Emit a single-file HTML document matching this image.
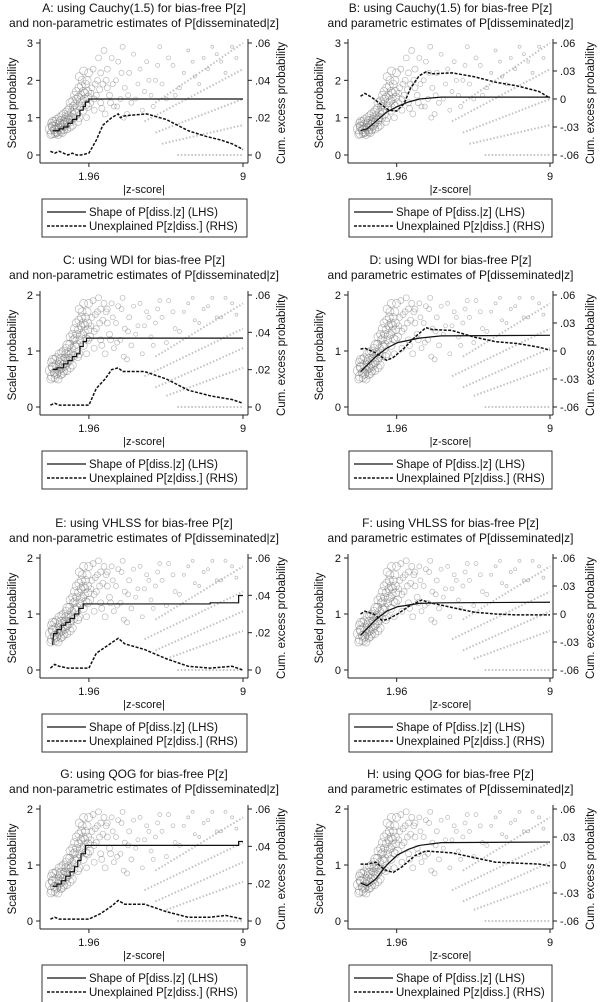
<!DOCTYPE html>
<html><head><meta charset="utf-8">
<style>
html,body{margin:0;padding:0;background:#fff;}
svg{display:block;font-family:"Liberation Sans","DejaVu Sans",sans-serif;}
</style></head>
<body>
<svg id="fig" width="601" height="1002" viewBox="0 0 601 1002" xmlns="http://www.w3.org/2000/svg"></svg>
<script>
// ---- data ----
const panelIds = ['A','B','C','D','E','F','G','H'];
const titles1 = ['A: using Cauchy(1.5) for bias-free P[z]','B: using Cauchy(1.5) for bias-free P[z]','C: using WDI for bias-free P[z]','D: using WDI for bias-free P[z]','E: using VHLSS for bias-free P[z]','F: using VHLSS for bias-free P[z]','G: using QOG for bias-free P[z]','H: using QOG for bias-free P[z]'];
const titles2 = ['and non-parametric estimates of P[disseminated|z]','and parametric estimates of P[disseminated|z]'];
const xTicks = [1.96, 9];
const xTickLabels = ['1.96','9'];
const leftTicksAB = [0,1,2,3];
const leftTicksCH = [0,1,2];
const rightTicksNP = [0,0.02,0.04,0.06];
const rightTickLabelsNP = ['0','.02','.04','.06'];
const rightTicksP = [-0.06,-0.03,0,0.03,0.06];
const rightTickLabelsP = ['-.06','-.03','0','.03','.06'];

const solidA = [[0.3,0.65],[0.6,0.65],[0.6,0.7],[0.8,0.7],[0.8,0.75],[1.0,0.75],[1.0,0.85],[1.2,0.85],[1.2,0.95],[1.4,0.95],[1.4,1.05],[1.55,1.05],[1.55,1.2],[1.7,1.2],[1.7,1.3],[1.8,1.3],[1.8,1.42],[1.96,1.42],[1.96,1.5],[9,1.5]];
const dashA = [[0.2,0.002],[0.4,0.001],[0.6,0.002],[0.8,0.001],[1.0,0.0],[1.2,0.001],[1.4,0.0],[1.6,0.0],[1.96,0.001],[2.3,0.008],[2.6,0.016],[3.0,0.02],[3.3,0.022],[3.4,0.02],[3.6,0.021],[4.6,0.022],[5.5,0.019],[6.5,0.013],[7.3,0.01],[8.0,0.008],[8.5,0.006],[9,0.003]];
const solidB = [[0.3,0.65],[0.6,0.7],[1.0,0.9],[1.5,1.15],[2.0,1.3],[2.5,1.42],[3.0,1.5],[4.0,1.55],[9,1.55]];
const dashB = [[0.3,0.003],[0.5,0.006],[0.8,0.002],[1.2,-0.005],[1.6,-0.012],[1.96,-0.013],[2.3,-0.005],[2.6,0.012],[3.0,0.025],[3.3,0.029],[3.6,0.027],[4.5,0.028],[5.5,0.024],[6.5,0.018],[7.5,0.014],[8.5,0.008],[9,0.001]];
const solidC = [[0.3,0.67],[0.5,0.67],[0.5,0.7],[0.8,0.7],[0.8,0.77],[1.0,0.77],[1.0,0.83],[1.2,0.83],[1.2,0.9],[1.4,0.9],[1.4,0.95],[1.55,0.95],[1.55,1.08],[1.7,1.08],[1.7,1.17],[1.85,1.17],[1.85,1.23],[9,1.23]];
const dashC = [[0.2,0.001],[0.4,0.002],[0.6,0.001],[1.0,0.001],[1.5,0.001],[1.96,0.001],[2.3,0.01],[2.7,0.015],[3.0,0.02],[3.3,0.021],[3.5,0.019],[4.5,0.019],[5.5,0.015],[6.5,0.009],[7.5,0.006],[8.5,0.004],[9,0.002]];
const solidD = [[0.3,0.63],[1.0,0.9],[1.5,1.05],[2.0,1.15],[3.0,1.23],[4.0,1.27],[9,1.28]];
const dashD = [[0.3,0.002],[0.5,0.003],[1.0,-0.002],[1.5,-0.01],[1.8,-0.007],[2.3,0.003],[2.8,0.015],[3.3,0.025],[3.6,0.023],[4.5,0.022],[5.5,0.015],[6.5,0.01],[7.5,0.008],[8.5,0.004],[9,0.001]];
const solidE = [[0.3,0.45],[0.35,0.65],[0.5,0.65],[0.5,0.72],[0.7,0.72],[0.7,0.8],[0.9,0.8],[0.9,0.85],[1.1,0.85],[1.1,0.92],[1.3,0.92],[1.3,1.0],[1.5,1.0],[1.5,1.1],[1.7,1.1],[1.7,1.18],[7.5,1.18],[7.5,1.2],[8.8,1.2],[8.8,1.33],[9,1.33]];
const dashE = [[0.2,0.001],[0.4,0.003],[0.6,0.002],[1.0,0.001],[1.5,0.001],[1.96,0.001],[2.3,0.009],[2.8,0.013],[3.3,0.017],[3.6,0.014],[4.5,0.011],[5.5,0.006],[6.5,0.002],[7.5,0.001],[8.5,0.002],[9,0.0]];
const solidF = [[0.3,0.62],[1.0,0.9],[1.5,1.05],[2.0,1.13],[3.0,1.19],[4.0,1.2],[9,1.21]];
const dashF = [[0.3,0.0],[0.5,0.003],[0.9,0.0],[1.3,-0.007],[1.6,-0.005],[2.0,0.0],[2.5,0.008],[3.1,0.015],[3.5,0.012],[4.5,0.007],[5.5,0.002],[6.5,0.0],[7.5,-0.001],[8.5,-0.001],[9,-0.001]];
const solidG = [[0.3,0.62],[0.5,0.62],[0.5,0.66],[0.7,0.66],[0.7,0.72],[0.9,0.72],[0.9,0.8],[1.1,0.8],[1.1,0.88],[1.3,0.88],[1.3,0.97],[1.45,0.97],[1.45,1.08],[1.6,1.08],[1.6,1.2],[1.8,1.2],[1.8,1.35],[8.8,1.35],[8.8,1.42],[9,1.42]];
const dashG = [[0.2,0.001],[0.4,0.002],[0.6,0.001],[1.0,0.001],[1.5,0.001],[1.96,0.001],[2.5,0.004],[3.0,0.008],[3.3,0.011],[3.6,0.009],[4.5,0.009],[5.5,0.005],[6.5,0.002],[7.5,0.002],[8.2,0.003],[9,0.001]];
const solidH = [[0.3,0.68],[0.6,0.63],[1.0,0.75],[1.5,1.0],[2.0,1.18],[2.5,1.28],[3.0,1.35],[4.0,1.4],[9,1.41]];
const dashH = [[0.3,0.001],[0.6,0.001],[1.0,0.003],[1.4,-0.005],[1.8,-0.008],[2.2,-0.002],[2.8,0.01],[3.3,0.015],[4.5,0.013],[5.5,0.008],[6.5,0.003],[7.5,0.002],[8.5,0.001],[9,-0.001]];

const cloudAB = [[0.2,0.7,5],[0.25,0.85,4],[0.3,0.6,5],[0.35,0.75,5],[0.4,0.9,4],[0.45,0.65,5],[0.5,0.8,5],[0.55,0.55,4],[0.6,1.0,4],[0.65,0.7,5],[0.7,0.9,5],[0.75,0.6,4],[0.8,1.1,4],[0.85,0.8,5],[0.9,1.0,4],[0.95,0.7,4],[1.0,1.2,4],[1.05,0.9,5],[1.1,1.4,4],[1.15,1.0,4],[1.2,0.8,4],[1.25,1.3,4],[1.3,1.6,4],[1.35,1.1,5],[1.4,1.5,4],[1.45,0.9,4],[1.5,1.8,4],[1.55,1.3,4],[1.6,1.6,4],[1.65,2.0,4],[1.7,1.2,4],[1.75,1.5,4],[1.8,1.9,4],[1.85,1.0,3],[1.9,1.7,4],[1.95,2.2,4],[2.0,1.4,4],[2.1,1.8,3],[2.15,2.3,3],[2.2,1.2,3],[2.3,1.6,3],[2.35,2.0,3],[2.4,2.6,3],[2.5,1.4,3],[2.6,1.9,3],[2.65,2.8,3],[2.7,1.1,3],[2.8,2.3,3],[2.9,1.6,3],[3.0,2.6,2.5],[3.1,1.3,2.5],[3.2,2.0,2.5],[3.3,2.5,2.5],[3.4,1.5,2.5],[3.5,2.9,2.5],[3.6,1.8,2.5],[3.7,1.1,2.5],[3.8,2.2,2.5],[3.9,1.4,2.5],[4.0,2.7,2],[4.2,1.9,2],[4.4,1.2,2],[4.6,2.5,2],[4.8,1.6,2],[5.0,2.0,2],[5.2,2.9,2],[5.5,1.5,2],[5.8,2.4,2],[6.1,1.8,2],[6.5,2.8,1.5],[6.8,2.1,1.5],[7.2,2.6,1.5],[7.6,2.9,1.5],[8.0,2.5,1.5],[8.5,2.9,1.5],[0.3,0.9,4],[0.5,0.6,4],[0.7,0.75,4],[0.9,0.85,5],[1.1,0.75,4],[1.3,1.2,4],[1.5,1.0,4],[1.7,1.7,4],[1.9,1.3,4],[2.2,1.5,3],[2.5,2.2,3],[2.8,1.8,3]];
const cloudAB2 = [[0.22,0.55,4],[0.28,0.78,4],[0.38,0.68,4],[0.42,0.58,4],[0.48,0.95,4],[0.58,0.72,4],[0.62,0.85,4],[0.68,0.62,4],[0.72,1.05,4],[0.78,0.82,4],[0.82,0.68,4],[0.88,0.95,4],[0.92,1.15,4],[0.98,0.88,4],[1.02,1.05,4],[1.08,1.25,4],[1.12,0.95,4],[1.18,1.15,4],[1.22,1.45,4],[1.28,1.0,4],[1.32,1.35,4],[1.38,1.7,4],[1.42,1.25,4],[1.48,1.55,4],[1.52,2.1,4],[1.58,1.4,4],[1.62,1.85,4],[1.68,1.45,4],[1.72,2.25,4],[1.78,1.65,4],[1.82,1.35,4],[1.88,2.0,4],[1.92,1.55,4],[2.05,1.65,3],[2.25,1.9,3],[2.45,1.75,3],[2.55,1.25,3],[2.75,2.0,3],[2.95,1.4,3],[3.05,1.9,2.5],[3.25,1.3,2.5],[3.45,2.2,2.5],[3.55,1.0,2.5],[3.75,1.6,2.5],[4.1,1.5,2],[4.3,2.3,2],[4.5,1.7,2],[4.7,2.0,2],[4.9,1.3,2],[5.1,2.4,2],[5.3,1.9,2],[5.6,2.6,2],[5.9,1.6,2],[6.3,2.2,1.5],[6.7,2.5,1.5],[7.0,1.9,1.5],[7.4,2.3,1.5],[7.8,2.7,1.5],[8.2,2.2,1.5],[8.7,2.6,1.5]];
const cloudCH = [[0.2,0.65,5],[0.25,0.8,4],[0.3,0.55,5],[0.35,0.7,5],[0.4,0.85,4],[0.45,0.6,5],[0.5,0.75,5],[0.55,0.5,4],[0.6,0.95,4],[0.65,0.7,5],[0.7,0.85,5],[0.75,0.6,4],[0.8,1.0,4],[0.85,0.75,5],[0.9,0.95,4],[0.95,0.65,4],[1.0,1.1,5],[1.05,0.85,5],[1.1,1.25,4],[1.15,0.95,4],[1.2,0.75,4],[1.25,1.2,4],[1.3,1.4,4],[1.35,1.05,5],[1.4,1.3,4],[1.45,0.9,4],[1.5,1.55,4],[1.55,1.2,4],[1.6,1.45,4],[1.65,1.7,4],[1.7,1.1,4],[1.75,1.35,4],[1.8,1.6,4],[1.85,0.95,3],[1.9,1.5,4],[1.95,1.85,4],[2.0,1.25,4],[2.1,1.6,3],[2.15,1.9,3],[2.2,1.05,3],[2.3,1.4,3],[2.35,1.7,3],[2.4,1.95,3],[2.5,1.2,3],[2.6,1.55,3],[2.65,1.85,3],[2.7,0.95,3],[2.8,1.75,3],[2.9,1.3,3],[3.0,1.85,2.5],[3.1,1.05,2.5],[3.2,1.5,2.5],[3.3,1.8,2.5],[3.4,1.2,2.5],[3.5,1.95,2.5],[3.6,1.4,2.5],[3.7,0.85,2.5],[3.8,1.6,2.5],[3.9,1.1,2.5],[4.0,1.8,2],[4.2,1.45,2],[4.4,0.95,2],[4.6,1.7,2],[4.8,1.25,2],[5.0,1.5,2],[5.2,1.9,2],[5.5,1.15,2],[5.8,1.7,2],[6.1,1.35,2],[6.5,1.85,1.5],[6.8,1.55,1.5],[7.2,1.75,1.5],[7.6,1.95,1.5],[8.0,1.6,1.5],[8.5,1.85,1.5],[0.3,0.85,4],[0.5,0.6,4],[0.7,0.7,4],[0.9,0.8,5],[1.1,0.7,4],[1.3,1.1,4],[1.5,0.95,4],[1.7,1.5,4],[1.9,1.2,4],[2.2,1.35,3],[2.5,1.75,3],[2.8,1.5,3]];
const cloudCH2 = [[0.22,0.5,4],[0.28,0.72,4],[0.38,0.62,4],[0.42,0.52,4],[0.48,0.88,4],[0.58,0.66,4],[0.62,0.8,4],[0.68,0.58,4],[0.72,0.97,4],[0.78,0.76,4],[0.82,0.64,4],[0.88,0.88,4],[0.92,1.05,4],[0.98,0.8,4],[1.02,0.97,4],[1.08,1.12,4],[1.12,0.88,4],[1.18,1.05,4],[1.22,1.3,4],[1.28,0.92,4],[1.32,1.22,4],[1.38,1.5,4],[1.42,1.12,4],[1.48,1.38,4],[1.52,1.75,4],[1.58,1.28,4],[1.62,1.6,4],[1.68,1.3,4],[1.72,1.85,4],[1.78,1.45,4],[1.82,1.22,4],[1.88,1.7,4],[1.92,1.38,4],[2.05,1.45,3],[2.25,1.65,3],[2.45,1.5,3],[2.55,1.1,3],[2.75,1.7,3],[2.95,1.2,3],[3.05,1.6,2.5],[3.25,1.15,2.5],[3.45,1.75,2.5],[3.55,0.9,2.5],[3.75,1.35,2.5],[4.1,1.3,2],[4.3,1.85,2],[4.5,1.45,2],[4.7,1.6,2],[4.9,1.1,2],[5.1,1.75,2],[5.3,1.6,2],[5.6,1.9,2],[5.9,1.4,2],[6.3,1.7,1.5],[6.7,1.95,1.5],[7.0,1.5,1.5],[7.4,1.8,1.5],[7.8,1.6,1.5],[8.2,1.95,1.5],[8.7,1.65,1.5]];
const raysAB = [[5.0,1.4,9,3.0],[4.5,0.9,9,2.3],[5.0,0.6,9,1.5],[5.3,0.3,9,0.8],[6.0,0,9,0]];
const raysCH = [[5.0,0.9,9,1.85],[4.5,0.55,9,1.4],[5.0,0.35,9,1.05],[5.5,0.2,9,0.7],[6.0,0,9,0]];

const solids = [solidA,solidB,solidC,solidD,solidE,solidF,solidG,solidH];
const dashes = [dashA,dashB,dashC,dashD,dashE,dashF,dashG,dashH];

// ---- drawing ----
const NS='http://www.w3.org/2000/svg';
const svg=document.getElementById('fig');
function mk(tag,attrs,parent){const e=document.createElementNS(NS,tag);for(const k in attrs)e.setAttribute(k,attrs[k]);(parent||svg).appendChild(e);return e;}
function txt(s,attrs,parent){const e=mk('text',attrs,parent);e.textContent=s;return e;}

const rowTop=[43,295,558,809];

panelIds.forEach((id,i)=>{
  const row=Math.floor(i/2), right=i%2===1;
  const g=mk('g',{});
  
  
  const yT=rowTop[row], y0=yT+112, yB=y0+8;
  const L = right?348:40, X0 = right?354:46, X9 = right?550:243, R = right?553:248;
  const sx=z=>X0+(X9-X0)*z/9;
  const lmax = row===0?3:2;
  const sy=v=>y0-(v/lmax)*112;
  const rmin = right?-0.06:0;
  const sr=v=>y0-(v-rmin)/(0.06-rmin)*112;
  const cx=(L+R)/2;
  const t1=txt(titles1[i],{x:cx,y:yT-31,'text-anchor':'middle','font-size':'12',fill:'#111'},g);
  
  
  const t2=txt(titles2[right?1:0],{x:cx,y:yT-16,'text-anchor':'middle','font-size':'12',fill:'#111'},g);
  
  
  const sg=mk('g',{fill:'none',stroke:'#777','stroke-opacity':'0.5','stroke-width':'0.7'},g);
  
  
  const clouds=row===0?[cloudAB,cloudAB2]:[cloudCH,cloudCH2];
  clouds.forEach(cl=>cl.forEach(p=>{const c=mk('circle',{cx:sx(p[0]),cy:sy(p[1]),r:p[2]},sg);
    
    }));
  const rays=row===0?raysAB:raysCH;
  rays.forEach(r=>{const l=mk('line',{x1:sx(r[0]),y1:sy(r[1]),x2:sx(r[2]),y2:sy(r[3]),stroke:'#999','stroke-width':'2','stroke-dasharray':'1.5 2','stroke-opacity':'0.6'},g);
    
    });
  const ax=mk('g',{stroke:'#222','stroke-width':'1',fill:'none'},g);
  
  
  mk('line',{x1:L,y1:yT-4,x2:L,y2:yB},ax);
  mk('line',{x1:R,y1:yT-4,x2:R,y2:yB},ax);
  mk('line',{x1:L,y1:yB,x2:R,y2:yB},ax);
  const lt=row===0?leftTicksAB:leftTicksCH;
  lt.forEach(v=>{mk('line',{x1:L-4,y1:sy(v),x2:L,y2:sy(v)},ax);
    const t=txt(String(v),{x:L-7,y:sy(v)+4,'text-anchor':'end','font-size':'11',fill:'#111',stroke:'none'},g);
    
    });
  const rt=right?rightTicksP:rightTicksNP, rtl=right?rightTickLabelsP:rightTickLabelsNP;
  rt.forEach((v,k)=>{mk('line',{x1:R,y1:sr(v),x2:R+4,y2:sr(v)},ax);
    const t=txt(rtl[k],{x:R+7,y:sr(v)+4,'font-size':'11',fill:'#111',stroke:'none'},g);
    
    });
  xTicks.forEach((v,k)=>{mk('line',{x1:sx(v),y1:yB,x2:sx(v),y2:yB+4},ax);
    const t=txt(xTickLabels[k],{x:sx(v),y:yB+17,'text-anchor':'middle','font-size':'11',fill:'#111'},g);
    
    });
  const xl=txt('|z-score|',{x:(L+R)/2,y:yB+30,'text-anchor':'middle','font-size':'11',fill:'#111'},g);
  
  
  const lx=right?323:16, rx=right?594:285, my=(yT+yB)/2;
  const yl=txt('Scaled probability',{x:lx,y:my,'text-anchor':'middle','font-size':'11.5',fill:'#111',transform:`rotate(-90 ${lx} ${my})`},g);
  
  
  const yr=txt('Cum. excess probability',{x:rx,y:my,'text-anchor':'middle','font-size':'11.5',fill:'#111',transform:`rotate(-90 ${rx} ${my})`},g);
  
  
  const sp=mk('path',{d:'M'+solids[i].map(p=>sx(p[0])+','+sy(p[1])).join('L'),fill:'none',stroke:'#111','stroke-width':'1.2'},g);
  
  
  const dp=mk('path',{d:'M'+dashes[i].map(p=>sx(p[0])+','+sr(p[1])).join('L'),fill:'none',stroke:'#111','stroke-width':'1.5','stroke-dasharray':'3 1.5'},g);
  
  
  const lgx=right?349:42, lgw=right?203:205, lgy=yB+36;
  const lg=mk('g',{},g);
  
  
  mk('rect',{x:lgx,y:lgy,width:lgw,height:38,fill:'#fff',stroke:'#333','stroke-width':'1'},lg);
  mk('line',{x1:lgx+5,y1:lgy+13,x2:lgx+44,y2:lgy+13,stroke:'#111','stroke-width':'1.2'},lg);
  mk('line',{x1:lgx+5,y1:lgy+27,x2:lgx+44,y2:lgy+27,stroke:'#111','stroke-width':'1.5','stroke-dasharray':'3 1.5'},lg);
  const e1=txt('Shape of P[diss.|z] (LHS)',{x:lgx+47,y:lgy+17,'font-size':'11.5',fill:'#111'},lg);
  
  
  const e2=txt('Unexplained P[z|diss.] (RHS)',{x:lgx+47,y:lgy+31,'font-size':'11.5',fill:'#111'},lg);
  
  
});
</script>
</body></html>
